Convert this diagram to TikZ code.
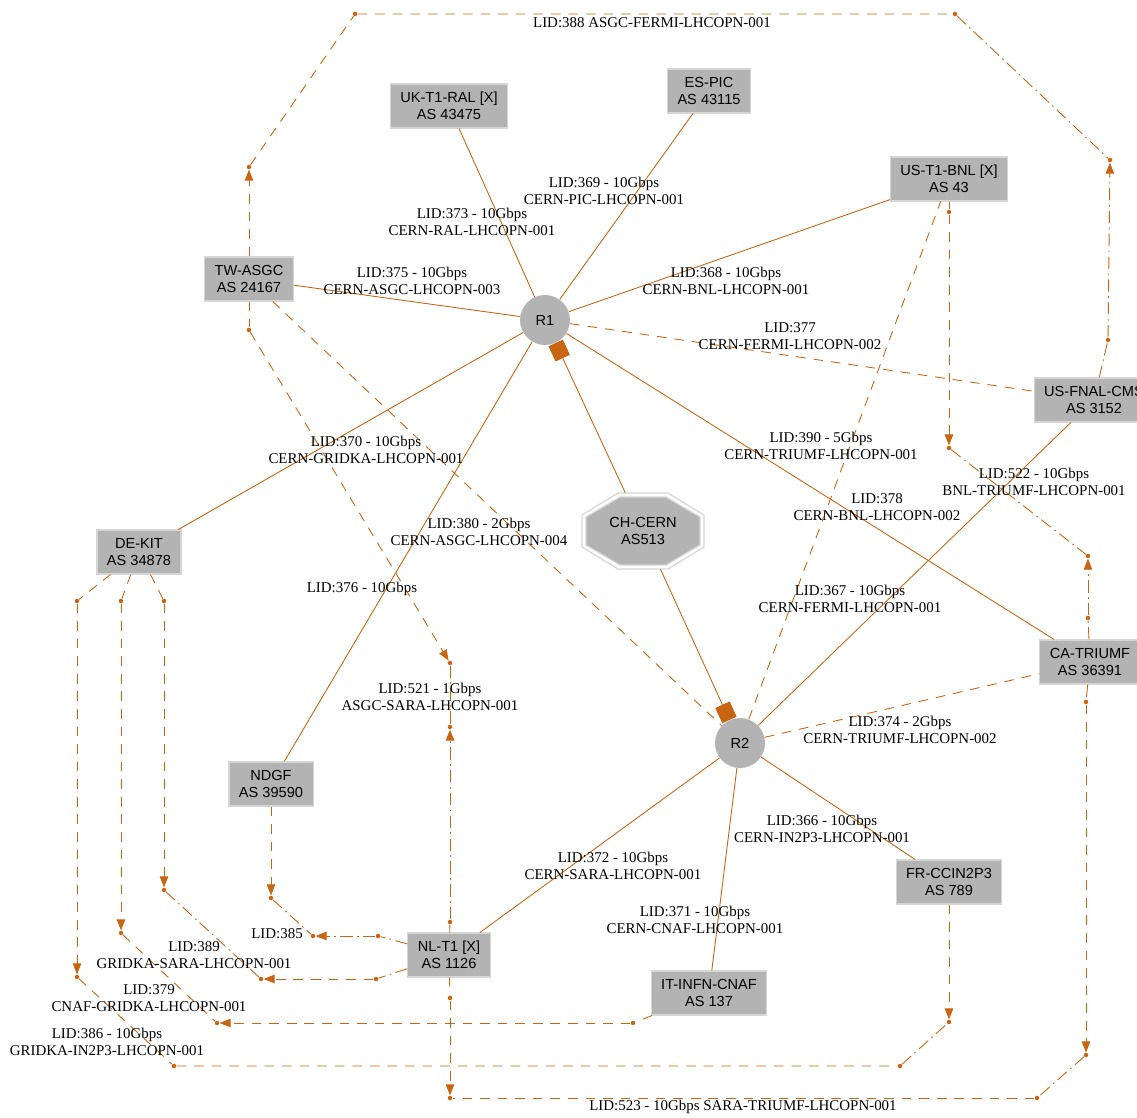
\documentclass[tikz,border=0pt]{standalone}
\usepackage{fontspec}
\setmainfont{Liberation Serif}
\newfontfamily\helv{Liberation Sans}
\usepackage{tikz}
\usetikzlibrary{arrows.meta}

\definecolor{linkorange}{RGB}{199,101,18}
\definecolor{nodegray}{RGB}{179,179,179}
\definecolor{rimgray}{RGB}{214,214,214}
\newcommand{\sitefont}{\helv\fontsize{8.3}{9.6}\selectfont}
\newcommand{\lidfont}{\fontsize{8.5}{9.6}\selectfont}

\tikzset{
	site/.style={rectangle, fill=nodegray, draw=rimgray, line width=0.6pt, font=\sitefont, align=center, inner xsep=0.2cm, inner ysep=0pt, minimum height=0.88cm},
	router/.style={circle, fill=nodegray, minimum size=1cm, inner sep=0pt, font=\sitefont},
	lid/.style={font=\lidfont, align=center, inner sep=0pt},
	via/.style={circle, fill=linkorange, inner sep=0pt, minimum size=0.09cm},
	wire/.style={draw=linkorange, line width=0.5pt},
	dsh/.style={wire, dash pattern=on 5.5pt off 4.5pt},
	dshdot/.style={wire, dash pattern=on 7pt off 2.5pt on 1pt off 2.5pt},
	arr/.style={-{Triangle[length=0.22cm,width=0.17cm]}},
	port/.style={-{Square[length=9.5pt,width=9pt]}}
}

\begin{document}
\begin{tikzpicture}[x=0.02cm, y=-0.02cm]
	\useasboundingbox (0,0) rectangle (1137,1117);

	% CERN octagon
	\begin{scope}[shift={(643,531)}]
		\draw[rimgray, line width=0.7pt] (-25,-38) -- (25,-38) -- (61,-16) -- (61,16) -- (25,38) -- (-25,38) -- (-61,16) -- (-61,-16) -- cycle;
		\draw[rimgray, fill=nodegray, line width=0.7pt] (-23,-34) -- (23,-34) -- (57,-14) -- (57,14) -- (23,34) -- (-23,34) -- (-57,14) -- (-57,-14) -- cycle;
	\end{scope}
	\node[font=\sitefont, align=center, minimum width=2.48cm, minimum height=1.52cm, inner sep=0pt] (chcern) at (643,531) {CH-CERN\\AS513};

	% sites
	\node[site] (ukral) at (449,106) {UK-T1-RAL [X]\\AS 43475};
	\node[site] (espic) at (709,91) {ES-PIC\\AS 43115};
	\node[site] (usbnl) at (949,179) {US-T1-BNL [X]\\AS 43};
	\node[site] (twasgc) at (249,279) {TW-ASGC\\AS 24167};
	\node[site] (usfnal) at (1094,400) {US-FNAL-CMS\\AS 3152};
	\node[site] (dekit) at (139,552) {DE-KIT\\AS 34878};
	\node[site] (catriumf) at (1090,662) {CA-TRIUMF\\AS 36391};
	\node[site] (ndgf) at (271,784) {NDGF\\AS 39590};
	\node[site] (frin2p3) at (949,882) {FR-CCIN2P3\\AS 789};
	\node[site] (nlt1) at (449,955) {NL-T1 [X]\\AS 1126};
	\node[site] (itcnaf) at (709,993) {IT-INFN-CNAF\\AS 137};
	\node[router] (r1) at (545,320) {R1};
	\node[router] (r2) at (740,743) {R2};

	% bend points
	\node[via] (a1) at (249,167) {};
	\node[via] (a2) at (355,14) {};
	\node[via] (a3) at (955,14) {};
	\node[via] (a4) at (1110,160) {};
	\node[via] (a5) at (1108,340) {};
	\node[via] (b1) at (249,330) {};
	\node[via] (b2) at (450,663) {};
	\node[via] (b3) at (450,727) {};
	\node[via] (b4) at (450,922) {};
	\node[via] (c1) at (949,212) {};
	\node[via] (c2) at (949,448) {};
	\node[via] (c3) at (1088,556) {};
	\node[via] (c4) at (1088,618) {};
	\node[via] (d1) at (1086,702) {};
	\node[via] (d2) at (1086,1055) {};
	\node[via] (d3) at (1037,1098) {};
	\node[via] (d4) at (450,1098) {};
	\node[via] (d5) at (450,998) {};
	\node[via] (e1) at (77,601) {};
	\node[via] (e2) at (77,977) {};
	\node[via] (e3) at (174,1066) {};
	\node[via] (e4) at (900,1066) {};
	\node[via] (e5) at (949,1022) {};
	\node[via] (f1) at (121,601) {};
	\node[via] (f2) at (121,933) {};
	\node[via] (f3) at (217,1023) {};
	\node[via] (f4) at (633,1023) {};
	\node[via] (g1) at (164,601) {};
	\node[via] (g2) at (164,890) {};
	\node[via] (g3) at (261,979) {};
	\node[via] (g4) at (376,979) {};
	\node[via] (h1) at (271,898) {};
	\node[via] (h2) at (313,936) {};
	\node[via] (h3) at (378,936) {};

	% CERN links
	\draw[wire, port] (chcern) -- (r1);
	\draw[wire, port] (chcern) -- (r2);
	\draw[wire] (r1) -- (ukral);
	\draw[wire] (r1) -- (espic);
	\draw[wire] (r1) -- (usbnl);
	\draw[wire] (r1) -- (twasgc);
	\draw[wire] (r1) -- (dekit);
	\draw[wire] (r1) -- (ndgf);
	\draw[wire] (r1) -- (catriumf);
	\draw[dsh] (r1) -- (usfnal);
	\draw[wire] (r2) -- (usfnal);
	\draw[dsh] (r2) -- (usbnl);
	\draw[dsh] (r2) -- (catriumf);
	\draw[wire] (r2) -- (frin2p3);
	\draw[wire] (r2) -- (nlt1);
	\draw[wire] (r2) -- (itcnaf);
	\draw[dsh] (twasgc) -- (r2);

	% T1 to T1 links
	\draw[dsh, arr] (twasgc) -- (a1);
	\draw[dsh] (a1) -- (a2) -- (a3);
	\draw[dshdot] (a3) -- (a4);
	\draw[dshdot] (usfnal) -- (a5);
	\draw[dshdot, arr] (a5) -- (a4);

	\draw[dsh] (twasgc) -- (b1);
	\draw[dsh, arr] (b1) -- (b2);
	\draw[dshdot] (b2) -- (b3);
	\draw[dshdot] (nlt1) -- (b4);
	\draw[dshdot, arr] (b4) -- (b3);

	\draw[dsh] (usbnl) -- (c1);
	\draw[dsh, arr] (c1) -- (c2);
	\draw[dshdot] (c2) -- (c3);
	\draw[dshdot] (catriumf) -- (c4);
	\draw[dshdot, arr] (c4) -- (c3);

	\draw[dshdot] (catriumf) -- (d1);
	\draw[dsh, arr] (d1) -- (d2);
	\draw[dshdot] (d2) -- (d3);
	\draw[dsh] (d3) -- (d4);
	\draw[dsh] (nlt1) -- (d5);
	\draw[dsh, arr] (d5) -- (d4);

	\draw[dsh] (dekit) -- (e1);
	\draw[dsh, arr] (e1) -- (e2);
	\draw[dsh] (e2) -- (e3) -- (e4);
	\draw[dshdot] (e4) -- (e5);
	\draw[dsh, arr] (frin2p3) -- (e5);

	\draw[dsh] (dekit) -- (f1);
	\draw[dsh, arr] (f1) -- (f2);
	\draw[dsh] (f2) -- (f3);
	\draw[dsh] (itcnaf) -- (f4);
	\draw[dsh, arr] (f4) -- (f3);

	\draw[dsh] (dekit) -- (g1);
	\draw[dsh, arr] (g1) -- (g2);
	\draw[dshdot] (g2) -- (g3);
	\draw[dshdot] (nlt1) -- (g4);
	\draw[dsh, arr] (g4) -- (g3);

	\draw[dsh, arr] (ndgf) -- (h1);
	\draw[dshdot] (h1) -- (h2);
	\draw[dshdot] (nlt1) -- (h3);
	\draw[dshdot, arr] (h3) -- (h2);

	% link labels
	\node[lid] (l388) at (652,23) {LID:388 ASGC-FERMI-LHCOPN-001};
	\node[lid] (l373) at (472,222) {LID:373 - 10Gbps\\CERN-RAL-LHCOPN-001};
	\node[lid] (l369) at (604,191) {LID:369 - 10Gbps\\CERN-PIC-LHCOPN-001};
	\node[lid] (l375) at (412,281) {LID:375 - 10Gbps\\CERN-ASGC-LHCOPN-003};
	\node[lid] (l368) at (726,281) {LID:368 - 10Gbps\\CERN-BNL-LHCOPN-001};
	\node[lid] (l377) at (790,336) {LID:377\\CERN-FERMI-LHCOPN-002};
	\node[lid] (l390) at (821,446) {LID:390 - 5Gbps\\CERN-TRIUMF-LHCOPN-001};
	\node[lid] (l522) at (1034,482) {LID:522 - 10Gbps\\BNL-TRIUMF-LHCOPN-001};
	\node[lid] (l370) at (366,450) {LID:370 - 10Gbps\\CERN-GRIDKA-LHCOPN-001};
	\node[lid] (l378) at (877,507) {LID:378\\CERN-BNL-LHCOPN-002};
	\node[lid] (l380) at (479,532) {LID:380 - 2Gbps\\CERN-ASGC-LHCOPN-004};
	\node[lid] (l376) at (362,589) {LID:376 - 10Gbps};
	\node[lid] (l367) at (850,599) {LID:367 - 10Gbps\\CERN-FERMI-LHCOPN-001};
	\node[lid] (l521) at (430,697) {LID:521 - 1Gbps\\ASGC-SARA-LHCOPN-001};
	\node[lid] (l374) at (900,730) {LID:374 - 2Gbps\\CERN-TRIUMF-LHCOPN-002};
	\node[lid] (l366) at (822,829) {LID:366 - 10Gbps\\CERN-IN2P3-LHCOPN-001};
	\node[lid] (l372) at (613,866) {LID:372 - 10Gbps\\CERN-SARA-LHCOPN-001};
	\node[lid] (l371) at (695,920) {LID:371 - 10Gbps\\CERN-CNAF-LHCOPN-001};
	\node[lid] (l385) at (277,934) {LID:385};
	\node[lid] (l389) at (194,955) {LID:389\\GRIDKA-SARA-LHCOPN-001};
	\node[lid] (l379) at (149,998) {LID:379\\CNAF-GRIDKA-LHCOPN-001};
	\node[lid] (l386) at (107,1042) {LID:386 - 10Gbps\\GRIDKA-IN2P3-LHCOPN-001};
	\node[lid] (l523) at (743,1107) {LID:523 - 10Gbps SARA-TRIUMF-LHCOPN-001};
\end{tikzpicture}
\end{document}
